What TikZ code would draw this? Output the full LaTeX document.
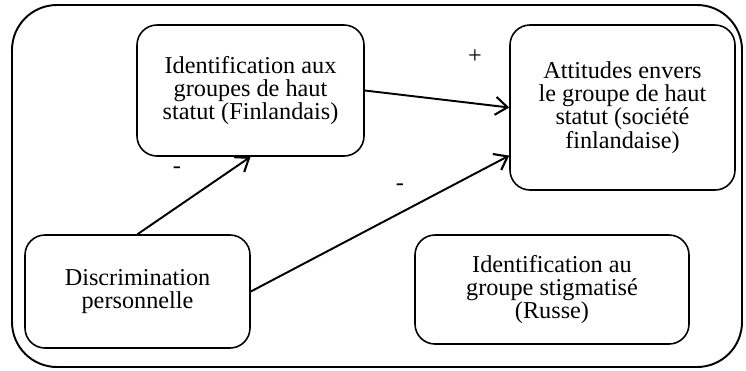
\documentclass[tikz,border=0pt]{standalone}
\usepackage{fontspec}
\setmainfont{Liberation Serif}
\usepackage{tikz}
\newcommand{\boxround}{0.4cm}
\usetikzlibrary{arrows.meta,calc,positioning}
\tikzset{
  >={Straight Barb[length=2.4mm,width=3.6mm,line width=1.2pt]},
  font=\fontsize{13.8}{13.2}\selectfont,
  rect/.style={draw,line width=0.9pt,shape=rectangle,rounded corners=\boxround,align=center,inner sep=1mm},
  frame/.style={draw,line width=1.1pt,rounded corners=0.9cm},
  line/.style={draw,->,line width=1.1pt},
  sign/.style={inner sep=0}
}
\begin{document}
\begin{tikzpicture}[x=0.02cm,y=-0.02cm]
    \useasboundingbox (0,0) rectangle (746,370);
    \path [frame] (12,5) rectangle (742,367);

    \node (ident) [rect,minimum width=227*0.02cm,minimum height=131*0.02cm] at (250.5,90.5)
      {Identification aux\\groupes de haut\\statut (Finlandais)};
    \node (attit) [rect,minimum width=225*0.02cm,minimum height=165*0.02cm] at (622.5,107.5)
      {Attitudes envers\\le groupe de haut\\statut (société\\finlandaise)};
    \node (discr) [rect,minimum width=225*0.02cm,minimum height=113*0.02cm] at (137.5,291.5)
      {Discrimination\\personnelle};
    \node (stigma) [rect,minimum width=274*0.02cm,minimum height=109*0.02cm] at (552,289.5)
      {Identification au\\groupe stigmatisé\\(Russe)};

    \path [line] (discr.north) -- (ident.south);
    \path [line] (ident.east) -- (attit.west);
    \path [line] (discr.east) -- (attit.203);

    \node (plus) [sign] at (475,57) {+};
    \node (minusa) [sign] at (177,170) {-};
    \node (minusb) [sign] at (400,187) {-};
  \end{tikzpicture}
\end{document}
